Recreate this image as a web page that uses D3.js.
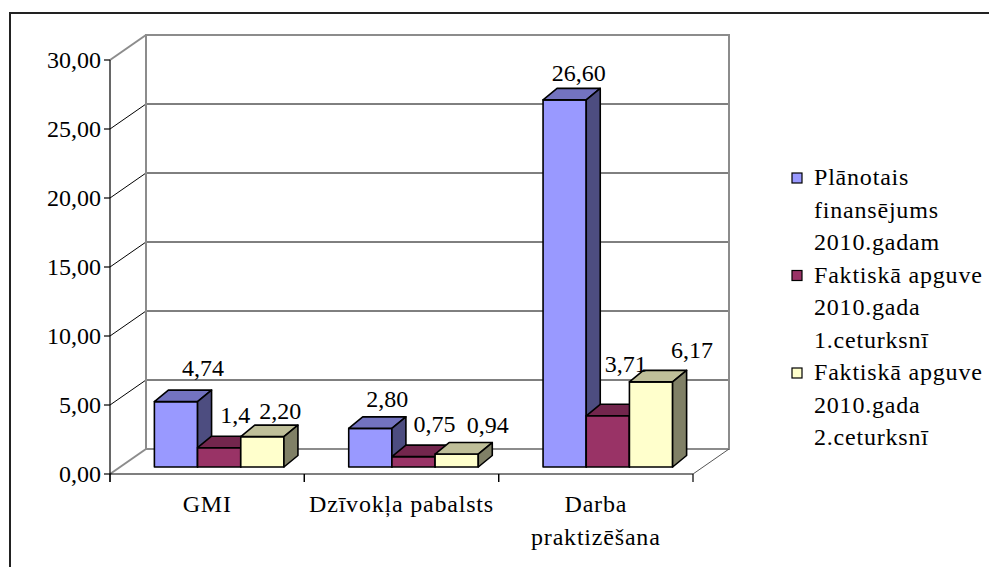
<!DOCTYPE html>
<html><head><meta charset="utf-8">
<script src="https://cdn.jsdelivr.net/npm/d3@7"></script>
</head><body style="margin:0">
<svg id="c" width="989" height="567"></svg>
<script>
// ---------- data ----------
const categories = ["GMI", "Dzīvokļa pabalsts", "Darba\npraktizēšana"];
const seriesNames = ["Plānotais\nfinansējums\n2010.gadam", "Faktiskā apguve\n2010.gada\n1.ceturksnī", "Faktiskā apguve\n2010.gada\n2.ceturksnī"];
const planned = [4.74, 2.80, 26.60];
const actualQ1 = [1.4, 0.75, 3.71];
const actualQ2 = [2.20, 0.94, 6.17];
const plannedLabels = ["4,74", "2,80", "26,60"];
const actualQ1Labels = ["1,4", "0,75", "3,71"];
const actualQ2Labels = ["2,20", "0,94", "6,17"];
const yTicks = [0, 5, 10, 15, 20, 25, 30];

// ---------- layout / style ----------
const seriesValues = [planned, actualQ1, actualQ2];
const seriesLabels = [plannedLabels, actualQ1Labels, actualQ2Labels];
const palette = [
  {front: "#9999FF", top: "#7373C0", side: "#4D4D80"},
  {front: "#993366", top: "#73264D", side: "#4D1A33"},
  {front: "#FFFFCC", top: "#BFBF99", side: "#808066"}
];
// per-series, per-category label nudges [dx, dy] relative to bar's top face
const labelNudge = [
  [[20, -14], [10, -10], [7, -7]],
  [[9, -13], [14, -13], [11, -32]],
  [[11, -6], [24, -10], [34, -12]]
];
const FONT = "'Liberation Serif'";
const FS = "24px";
const X0 = 110, X1 = 693, YB = 474, YT = 60;
const DX = 36, DY = 25;           // wall depth
const SX = 12, SY = 7;            // bar front-plane offset
const BDX = 14, BDY = 11.5;       // bar depth

const svg = d3.select("#c");
const fmt = v => d3.format(".2f")(v).replace(".", ",");
const txt = (sel, ls) => sel.append("text").style("font-family", FONT).style("font-size", FS).style("letter-spacing", (ls || 0) + "px");

const x = d3.scaleBand().domain(categories).range([X0, X1]);
const xs = d3.scaleBand().domain(d3.range(seriesValues.length)).range([0, x.bandwidth()]).paddingOuter(0.75).paddingInner(0);
const y = d3.scaleLinear().domain([0, 30]).range([YB, YT]);

// outer border (top and left visible)
svg.append("rect").attr("x", 10).attr("y", 13).attr("width", 1200).attr("height", 800)
  .attr("fill", "none").attr("stroke", "#222").attr("stroke-width", 2);

const g = svg.append("g");

// gridlines (back wall + left wall diagonals)
yTicks.filter(t => t > 0 && t < 30).forEach(t => {
  g.append("line").attr("x1", X0 + DX).attr("x2", X1 + DX).attr("y1", y(t) - DY).attr("y2", y(t) - DY)
    .attr("stroke", "#000").attr("stroke-width", 1);
  g.append("line").attr("x1", X0).attr("y1", y(t)).attr("x2", X0 + DX).attr("y2", y(t) - DY)
    .attr("stroke", "#000").attr("stroke-width", 1);
});

// walls outline (gray)
const gray = "#8c8c8c";
g.append("rect").attr("x", X0 + DX).attr("y", y(30) - DY).attr("width", X1 - X0).attr("height", y(0) - y(30))
  .attr("fill", "none").attr("stroke", gray).attr("stroke-width", 2);
g.append("line").attr("x1", X0).attr("y1", y(30)).attr("x2", X0 + DX).attr("y2", y(30) - DY).attr("stroke", gray).attr("stroke-width", 2);
g.append("line").attr("x1", X0).attr("y1", y(0)).attr("x2", X0 + DX).attr("y2", y(0) - DY).attr("stroke", gray).attr("stroke-width", 2);
g.append("line").attr("x1", X1).attr("y1", y(0)).attr("x2", X1 + DX).attr("y2", y(0) - DY).attr("stroke", "#555").attr("stroke-width", 1);

// bars
categories.forEach((c, ci) => {
  seriesValues.forEach((vals, si) => {
    const v = vals[ci];
    const bx = x(c) + xs(si) + SX;
    const w = xs.bandwidth();
    const base = y(0) - SY;
    const top = base - (y(0) - y(v));
    const col = palette[si];
    const bg = g.append("g").attr("stroke", "#000").attr("stroke-width", 1.6).attr("stroke-linejoin", "round");
    bg.append("rect").attr("x", bx).attr("y", top).attr("width", w).attr("height", base - top).attr("fill", col.front);
    bg.append("polygon").attr("points", [[bx, top], [bx + BDX, top - BDY], [bx + w + BDX, top - BDY], [bx + w, top]].join(" "))
      .attr("fill", col.top);
    bg.append("polygon").attr("points", [[bx + w, top], [bx + w + BDX, top - BDY], [bx + w + BDX, base - BDY], [bx + w, base]].join(" "))
      .attr("fill", col.side);
  });
});

// data labels
categories.forEach((c, ci) => {
  seriesValues.forEach((vals, si) => {
    const v = vals[ci];
    const bx = x(c) + xs(si) + SX;
    const w = xs.bandwidth();
    const top = y(0) - SY - (y(0) - y(v));
    const nd = labelNudge[si][ci];
    txt(svg).attr("x", bx + w / 2 + BDX / 2 + nd[0]).attr("y", top - BDY + nd[1])
      .attr("text-anchor", "middle").text(seriesLabels[si][ci]);
  });
});

// axes
const ax = svg.append("g");
ax.append("line").attr("x1", X0).attr("x2", X0).attr("y1", y(30)).attr("y2", y(0) + 8).attr("stroke", "#000").attr("stroke-width", 1.2);
ax.append("line").attr("x1", X0).attr("x2", X1).attr("y1", y(0)).attr("y2", y(0)).attr("stroke", "#000").attr("stroke-width", 1.2);
yTicks.forEach(t => {
  ax.append("line").attr("x1", X0 - 6).attr("x2", X0).attr("y1", y(t)).attr("y2", y(t)).attr("stroke", "#000").attr("stroke-width", 1.2);
  txt(ax).attr("x", X0 - 9).attr("y", y(t) + 8).attr("text-anchor", "end").text(fmt(t));
});
categories.forEach((c, ci) => {
  [x(c), x(c) + x.bandwidth()].forEach(px => {
    ax.append("line").attr("x1", px).attr("x2", px).attr("y1", y(0)).attr("y2", y(0) + 8).attr("stroke", "#000").attr("stroke-width", 1.2);
  });
  c.split("\n").forEach((ln, li) => {
    txt(ax, 0.8).attr("text-anchor", "middle").attr("x", x(c) + x.bandwidth() / 2).attr("y", 512 + li * 33).text(ln);
  });
});

// legend
const lg = svg.append("g");
let line = 0;
seriesNames.forEach((name, si) => {
  const base = 185 + line * 32.5;
  lg.append("rect").attr("x", 792).attr("y", base - 12).attr("width", 10).attr("height", 10)
    .attr("fill", palette[si].front).attr("stroke", "#000").attr("stroke-width", 1.2);
  name.split("\n").forEach((ln, li) => {
    txt(lg, 0.8).attr("x", 814).attr("y", base + li * 32.5).text(ln);
  });
  line += name.split("\n").length;
});
</script>
</body></html>
